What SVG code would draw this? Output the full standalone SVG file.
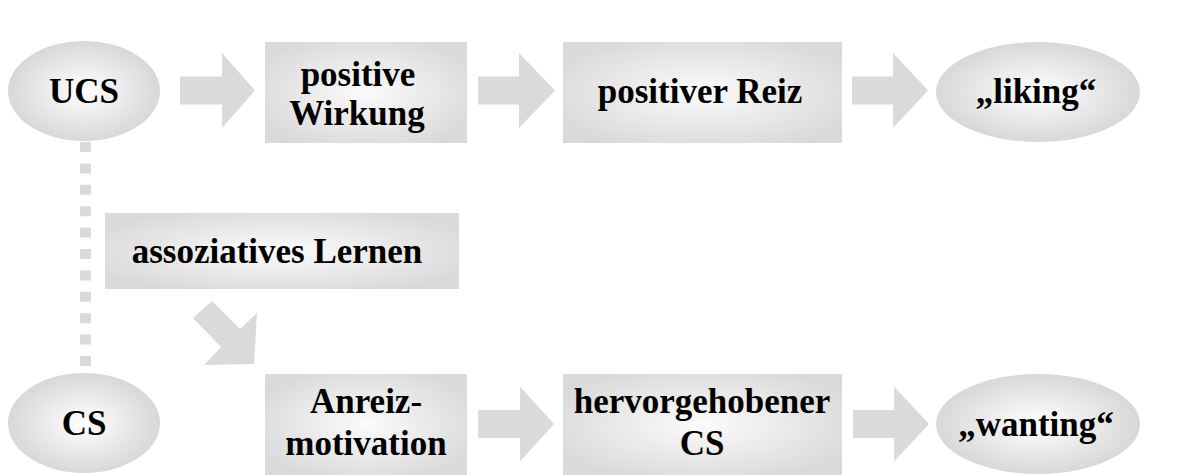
<svg xmlns="http://www.w3.org/2000/svg" width="1192" height="475" viewBox="0 0 1192 475">
  <defs>
    <radialGradient id="gEll" cx="50%" cy="50%" r="50%">
      <stop offset="0%" stop-color="#ffffff"/>
      <stop offset="100%" stop-color="#d8d8d8"/>
    </radialGradient>
    <radialGradient id="gBox" cx="50%" cy="50%" r="60%">
      <stop offset="0%" stop-color="#fbfbfb"/>
      <stop offset="100%" stop-color="#d9d9d9"/>
    </radialGradient>
  </defs>
  <style>
    .ell { fill: url(#gEll); }
    .box { fill: url(#gBox); }
    .arr { fill: #dadada; }
    .t { font-family: "Liberation Serif", "Times New Roman", serif; font-weight: bold; font-size: 35px; fill: #000; text-anchor: middle; }
  </style>
  <rect width="1192" height="475" fill="#ffffff"/>

  <g id="connectors">
    <path d="M85.5,142 V366" stroke="#d9d9d9" stroke-width="11" stroke-dasharray="10 11.4" fill="none"/>
    <path class="arr" d="M180,76.5 H222 V53 L255,90.5 L222,128 V104.5 H180 Z"/>
    <path class="arr" d="M478,76.5 H519 V53 L555,90.5 L519,128 V104.5 H478 Z"/>
    <path class="arr" d="M852,76.5 H893 V53 L928,90.5 L893,128 V104.5 H852 Z"/>
    <path class="arr" d="M212,301 L240,329 L257,313 L254,364 L204,365 L221,347 L193,318 Z"/>
    <path class="arr" d="M478,410 H520 V386.5 L554,424 L520,461.5 V438 H478 Z"/>
    <path class="arr" d="M853,410 H894 V386.5 L929,424 L894,461.5 V438 H853 Z"/>
  </g>

  <g id="ucs">
    <ellipse class="ell" cx="84" cy="91" rx="76" ry="50"/>
    <text class="t" x="84" y="103">UCS</text>
  </g>
  <g id="positive-wirkung">
    <rect class="box" x="265" y="42" width="202" height="101"/>
    <text class="t" x="358" y="86">positive</text>
    <text class="t" x="357" y="125">Wirkung</text>
  </g>
  <g id="positiver-reiz">
    <rect class="box" x="563" y="42" width="279" height="101"/>
    <text class="t" x="700" y="103">positiver Reiz</text>
  </g>
  <g id="liking">
    <ellipse class="ell" cx="1038" cy="92" rx="102" ry="50"/>
    <text class="t" x="1036" y="103">„liking“</text>
  </g>
  <g id="assoziatives-lernen">
    <rect class="box" x="105" y="213" width="354" height="76"/>
    <text class="t" x="277" y="263">assoziatives Lernen</text>
  </g>
  <g id="cs">
    <ellipse class="ell" cx="84" cy="423" rx="76" ry="50"/>
    <text class="t" x="84" y="435">CS</text>
  </g>
  <g id="anreizmotivation">
    <rect class="box" x="265" y="374" width="202" height="101"/>
    <text class="t" x="366" y="413">Anreiz-</text>
    <text class="t" x="366" y="455">motivation</text>
  </g>
  <g id="hervorgehobener-cs">
    <rect class="box" x="563" y="374" width="279" height="101"/>
    <text class="t" x="702" y="413">hervorgehobener</text>
    <text class="t" x="702" y="455">CS</text>
  </g>
  <g id="wanting">
    <ellipse class="ell" cx="1038" cy="424" rx="102" ry="50"/>
    <text class="t" x="1036" y="436">„wanting“</text>
  </g>
</svg>
